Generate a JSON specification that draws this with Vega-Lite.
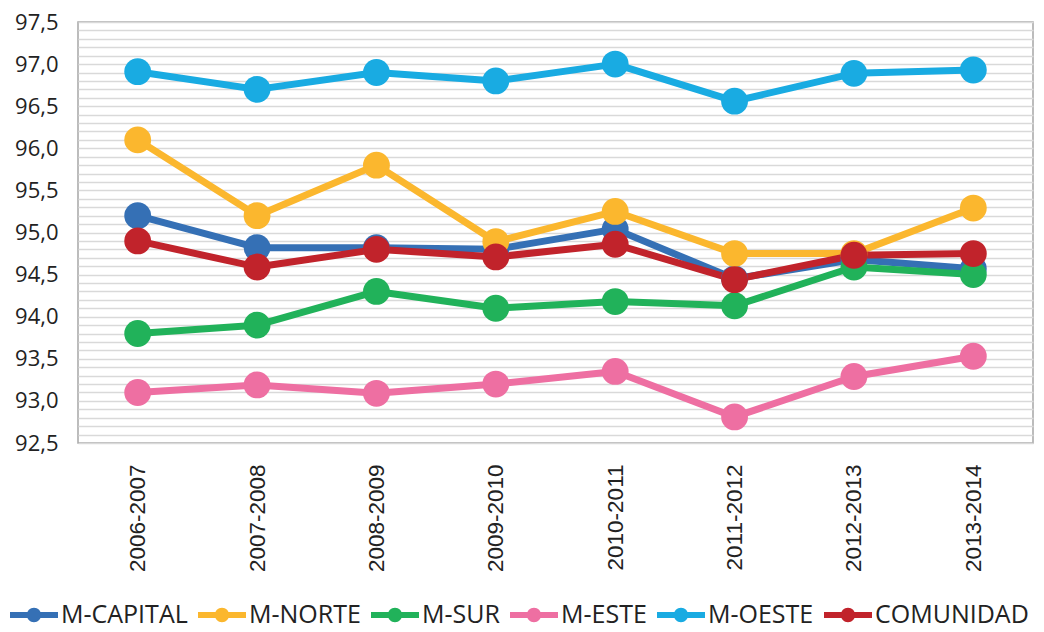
{
  "$schema": "https://vega.github.io/schema/vega-lite/v6.json",
  "width": 955,
  "height": 421,
  "autosize": {"type": "none"},
  "padding": {"left": 78, "top": 22, "right": 11, "bottom": 189},
  "background": "white",
  "config": {
    "view": {"stroke": "#a6a6a6", "strokeWidth": 1.5},
    "font": "Open Sans"
  },
  "data": {
    "values": [
      {"serie": "M-CAPITAL", "curso": "2006-2007", "valor": 95.2},
      {"serie": "M-CAPITAL", "curso": "2007-2008", "valor": 94.82},
      {"serie": "M-CAPITAL", "curso": "2008-2009", "valor": 94.82},
      {"serie": "M-CAPITAL", "curso": "2009-2010", "valor": 94.8},
      {"serie": "M-CAPITAL", "curso": "2010-2011", "valor": 95.04},
      {"serie": "M-CAPITAL", "curso": "2011-2012", "valor": 94.45},
      {"serie": "M-CAPITAL", "curso": "2012-2013", "valor": 94.68},
      {"serie": "M-CAPITAL", "curso": "2013-2014", "valor": 94.57},
      {"serie": "M-NORTE", "curso": "2006-2007", "valor": 96.1},
      {"serie": "M-NORTE", "curso": "2007-2008", "valor": 95.2},
      {"serie": "M-NORTE", "curso": "2008-2009", "valor": 95.8},
      {"serie": "M-NORTE", "curso": "2009-2010", "valor": 94.89},
      {"serie": "M-NORTE", "curso": "2010-2011", "valor": 95.25},
      {"serie": "M-NORTE", "curso": "2011-2012", "valor": 94.75},
      {"serie": "M-NORTE", "curso": "2012-2013", "valor": 94.75},
      {"serie": "M-NORTE", "curso": "2013-2014", "valor": 95.29},
      {"serie": "M-SUR", "curso": "2006-2007", "valor": 93.8},
      {"serie": "M-SUR", "curso": "2007-2008", "valor": 93.9},
      {"serie": "M-SUR", "curso": "2008-2009", "valor": 94.3},
      {"serie": "M-SUR", "curso": "2009-2010", "valor": 94.1},
      {"serie": "M-SUR", "curso": "2010-2011", "valor": 94.18},
      {"serie": "M-SUR", "curso": "2011-2012", "valor": 94.13},
      {"serie": "M-SUR", "curso": "2012-2013", "valor": 94.59},
      {"serie": "M-SUR", "curso": "2013-2014", "valor": 94.5},
      {"serie": "M-ESTE", "curso": "2006-2007", "valor": 93.1},
      {"serie": "M-ESTE", "curso": "2007-2008", "valor": 93.19},
      {"serie": "M-ESTE", "curso": "2008-2009", "valor": 93.09},
      {"serie": "M-ESTE", "curso": "2009-2010", "valor": 93.2},
      {"serie": "M-ESTE", "curso": "2010-2011", "valor": 93.35},
      {"serie": "M-ESTE", "curso": "2011-2012", "valor": 92.81},
      {"serie": "M-ESTE", "curso": "2012-2013", "valor": 93.29},
      {"serie": "M-ESTE", "curso": "2013-2014", "valor": 93.53},
      {"serie": "M-OESTE", "curso": "2006-2007", "valor": 96.91},
      {"serie": "M-OESTE", "curso": "2007-2008", "valor": 96.7},
      {"serie": "M-OESTE", "curso": "2008-2009", "valor": 96.9},
      {"serie": "M-OESTE", "curso": "2009-2010", "valor": 96.8},
      {"serie": "M-OESTE", "curso": "2010-2011", "valor": 97.0},
      {"serie": "M-OESTE", "curso": "2011-2012", "valor": 96.56},
      {"serie": "M-OESTE", "curso": "2012-2013", "valor": 96.89},
      {"serie": "M-OESTE", "curso": "2013-2014", "valor": 96.93},
      {"serie": "COMUNIDAD", "curso": "2006-2007", "valor": 94.9},
      {"serie": "COMUNIDAD", "curso": "2007-2008", "valor": 94.59},
      {"serie": "COMUNIDAD", "curso": "2008-2009", "valor": 94.8},
      {"serie": "COMUNIDAD", "curso": "2009-2010", "valor": 94.71},
      {"serie": "COMUNIDAD", "curso": "2010-2011", "valor": 94.86},
      {"serie": "COMUNIDAD", "curso": "2011-2012", "valor": 94.44},
      {"serie": "COMUNIDAD", "curso": "2012-2013", "valor": 94.73},
      {"serie": "COMUNIDAD", "curso": "2013-2014", "valor": 94.75}
    ]
  },
  "encoding": {
    "x": {
      "field": "curso",
      "type": "ordinal",
      "scale": {"type": "point", "padding": 0.5},
      "axis": {
        "title": null,
        "domain": false,
        "ticks": false,
        "labelAngle": -90,
        "labelAlign": "right",
        "labelBaseline": "middle",
        "labelPadding": 21,
        "labelFont": "Liberation Sans",
        "labelFontSize": 22.5,
        "labelColor": "#222222"
      }
    },
    "y": {
      "field": "valor",
      "type": "quantitative",
      "scale": {"domain": [92.5, 97.5], "nice": false, "zero": false},
      "axis": {
        "title": null,
        "domain": false,
        "ticks": false,
        "labelPadding": 20,
        "labelFont": "Open Sans",
        "labelFontSize": 22,
        "labelColor": "#222222",
        "labelOverlap": false,
        "labelBound": false,
        "gridColor": "#d9d9d9",
        "gridWidth": 1.5,
        "values": [92.5,92.6,92.7,92.8,92.9,93.0,93.1,93.2,93.3,93.4,93.5,93.6,93.7,93.8,93.9,94.0,94.1,94.2,94.3,94.4,94.5,94.6,94.7,94.8,94.9,95.0,95.1,95.2,95.3,95.4,95.5,95.6,95.7,95.8,95.9,96.0,96.1,96.2,96.3,96.4,96.5,96.6,96.7,96.8,96.9,97.0,97.1,97.2,97.3,97.4,97.5],
        "labelExpr": "abs(datum.value * 2 - round(datum.value * 2)) < 0.01 ? replace(format(datum.value, '.1f'), '.', ',') : ''"
      }
    },
    "color": {
      "field": "serie",
      "type": "nominal",
      "sort": ["M-CAPITAL", "M-NORTE", "M-SUR", "M-ESTE", "M-OESTE", "COMUNIDAD"],
      "scale": {
        "domain": ["M-CAPITAL", "M-NORTE", "M-SUR", "M-ESTE", "M-OESTE", "COMUNIDAD"],
        "range": ["#3570b5", "#fbb72e", "#21b25a", "#ee6fa2", "#19abe2", "#c1232b"]
      },
      "legend": {
        "title": null,
        "orient": "none",
        "direction": "horizontal",
        "legendX": -68,
        "legendY": 569,
        "symbolType": "M-1,-0.125H1V0.125H-1Z M0.3,0A0.3,0.3,0,1,1,-0.3,0A0.3,0.3,0,1,1,0.3,0Z",
        "symbolSize": 2304,
        "symbolStrokeWidth": 0,
        "labelFont": "Open Sans",
        "labelFontSize": 25,
        "labelColor": "#222222",
        "labelOffset": 3,
        "columnPadding": 10,
        "labelLimit": 300,
        "encode": {
          "symbols": {
            "update": {
              "fill": {"scale": "color", "field": "value"},
              "fillOpacity": {"value": 1},
              "strokeWidth": {"value": 0}
            }
          }
        }
      }
    }
  },
  "layer": [
    {
      "mark": {"type": "line", "strokeWidth": 7, "strokeCap": "round", "strokeJoin": "round"}
    },
    {
      "mark": {"type": "circle", "size": 720, "opacity": 1}
    }
  ]
}
